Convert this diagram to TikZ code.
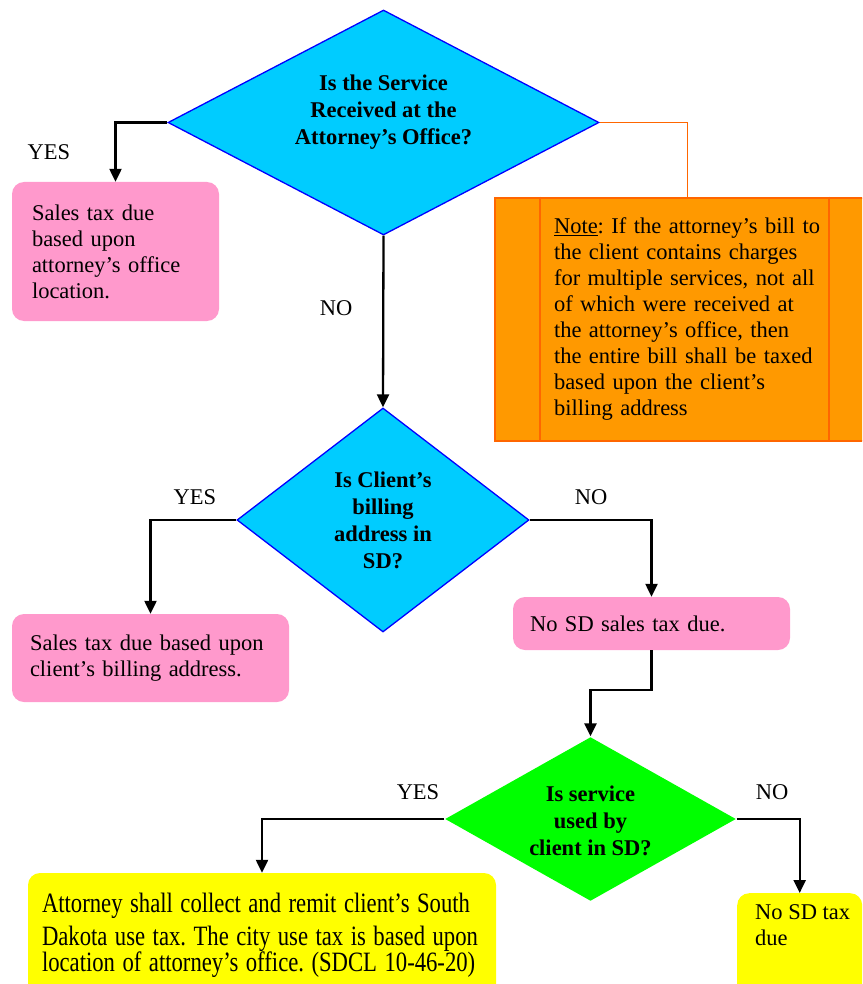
\documentclass[tikz,border=0pt]{standalone}
\usepackage{fontspec}
\setmainfont{Liberation Serif}
\newfontfamily\condfont[FakeStretch=0.81,Ligatures=TeX]{Liberation Serif}
\usetikzlibrary{shapes.geometric,arrows.meta}
\definecolor{qcyan}{RGB}{0,204,255}
\definecolor{qblue}{RGB}{0,0,255}
\definecolor{qpink}{RGB}{255,153,204}
\definecolor{qyellow}{RGB}{255,255,0}
\definecolor{qgreen}{RGB}{0,255,0}
\definecolor{notefill}{RGB}{255,153,0}
\definecolor{noteline}{RGB}{255,102,0}
\begin{document}
\frenchspacing
\begin{tikzpicture}[x=1pt,y=-1pt,
  every node/.style={font=\fontsize{22.5}{26}\selectfont},
  question/.style={diamond,draw=qblue,line width=1.3pt,fill=qcyan,inner sep=0pt},
  boldtext/.style={align=center,inner sep=0pt,font=\fontsize{22.5}{27}\selectfont\bfseries},
  pinkbox/.style={rectangle,rounded corners=12pt,fill=qpink,align=left,inner xsep=0pt},
  yellowbox/.style={rectangle,rounded corners=12pt,fill=qyellow,align=left,inner xsep=0pt},
  arrow/.style={line width=2.3pt,-{Triangle[length=13pt,width=12pt]}},
  answer/.style={inner sep=0pt}]
\useasboundingbox (0,0) rectangle (862,984);
\clip (0,0) rectangle (862,984);

\node (office) [question,minimum width=431,minimum height=225] at (383.5,122.5) {};
\node (officetext) [boldtext] at ([yshift=10]office.center)
  {Is the Service\\Received at the\\Attorney's Office?};
\node (tax1) [pinkbox,minimum width=207,minimum height=139,text width=167] at (115.5,251.5)
  {Sales tax due\\based upon\\attorney's office\\location.};
\node (note) [rectangle,fill=notefill,draw=noteline,line width=2.5pt,minimum width=385,
  minimum height=243,text width=267,align=left] at (687.5,319.5)
  {\underline{Note}: If the attorney's bill to\\the client contains charges\\for multiple services, not all\\of which were received at\\the attorney's office, then\\the entire bill shall be taxed\\based upon the client's\\billing address};
\draw[noteline,line width=2.5pt] ([xshift=46]note.north west) -- ([xshift=46]note.south west);
\draw[noteline,line width=2.5pt] ([xshift=335]note.north west) -- ([xshift=335]note.south west);

\node (billing) [question,minimum width=292,minimum height=224] at (383,520) {};
\node (billingtext) [boldtext] at (billing.center) {Is Client's\\billing\\address in\\SD?};
\node (tax2) [pinkbox,minimum width=277,minimum height=88,text width=241] at (150.5,658)
  {Sales tax due based upon\\client's billing address.};
\node (notax) [pinkbox,minimum width=277,minimum height=53,text width=243] at (651.5,623.5)
  {No SD sales tax due.};

\node (used) [question,draw=none,fill=qgreen,minimum width=291,minimum height=164] at (590.5,819) {};
\node (usedtext) [boldtext] at ([yshift=-2]used.center) {Is service\\used by\\client in SD?};
\node (usetax) [yellowbox,minimum width=468,minimum height=124,text width=440] at (262,935)
  {\condfont\fontsize{28}{33}\selectfont Attorney shall collect and remit client's South\\Dakota use tax. The city use tax is based upon\\location of attorney's office. (SDCL 10-46-20)};
\node (nouse) [yellowbox,minimum width=125,minimum height=110,anchor=north west] at (737,893) {};
\node (nousetext) [answer,anchor=north west,align=left] at (755,904) {No SD tax\\due};

\node (y1) [answer] at (49,152) {YES};
\node (n1) [answer] at (336,308) {NO};
\node (y2) [answer] at (195,497) {YES};
\node (n2) [answer] at (591,497) {NO};
\node (y3) [answer] at (418,792) {YES};
\node (n3) [answer] at (772,792) {NO};

\draw[noteline,line width=0.8pt] (office.east) -| (note.north);
\draw[arrow] (office.west) -| (tax1.north);
\draw[arrow] (office.south) -- (billing.north);
\draw[arrow] (billing.west) -| (tax2.north);
\draw[arrow] (billing.east) -| (notax.north);
\draw[arrow] (notax.south) -- ++(0,40) -| (used.north);
\draw[arrow] (used.west) -| (usetax.north);
\draw[arrow] (used.east) -| (nouse.north);
\end{tikzpicture}
\end{document}
